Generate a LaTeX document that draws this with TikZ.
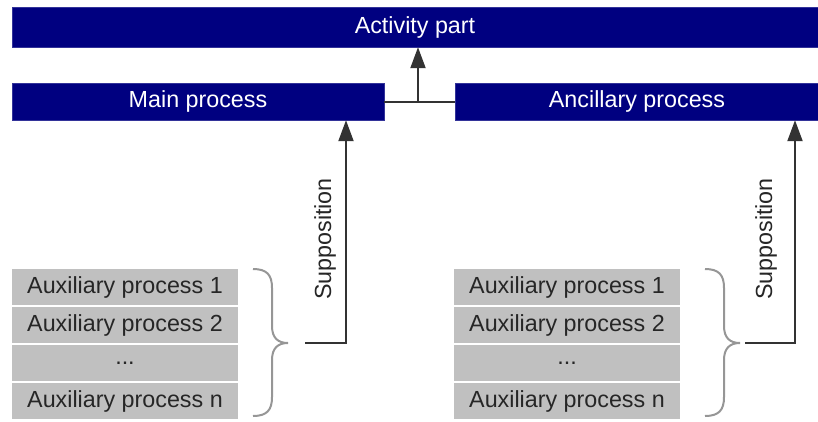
\documentclass[tikz,border=0pt]{standalone}
\usepackage{fontspec}
\setmainfont{Liberation Sans}
\usetikzlibrary{arrows.meta}
\definecolor{navyblue}{RGB}{0,0,128}
\definecolor{boxgray}{RGB}{192,192,192}
\definecolor{bracegray}{RGB}{150,150,150}
\tikzset{
  bluebox/.style={draw=navyblue!80!white, fill=navyblue, text=white, inner sep=0pt, minimum height=37pt, font=\fontsize{23.3}{26}\selectfont},
  graybox/.style={fill=boxgray, inner sep=0pt, minimum height=36pt, text=black!85, font=\fontsize{23.3}{26}\selectfont},
  conn/.style={line width=2pt, black!80},
  arr/.style={conn, -{Triangle[length=21pt,width=15pt]}},
  bracestyle/.style={draw=bracegray, line width=2pt},
  lbl/.style={font=\fontsize{23.3}{26}\selectfont, text=black!85, rotate=90, inner sep=0pt}
}
\newcommand{\mybrace}{(253,269) .. controls (267,269) and (272,275) .. (272,288) -- (272,326) .. controls (272,338) and (278,343) .. (288,343) .. controls (278,343) and (272,348) .. (272,360) -- (272,397) .. controls (272,410) and (267,416) .. (253,416)}
\begin{document}
\begin{tikzpicture}[x=1pt,y=-1pt]
\useasboundingbox (0,0) rectangle (818,421);
% top boxes
\node[bluebox, minimum width=806pt, minimum height=40pt] (act) at (415,27) {Activity part};
\node[bluebox, minimum width=372pt] (main) at (198,101.5) {Main process};
\node[bluebox, minimum width=364pt] (anc) at (637,101.5) {Ancillary process};
% junction
\coordinate (jn) at (418,101.5);
\draw[conn] (main.east) -- (anc.west);
\draw[arr] (jn) -- (jn |- act.south);
% left gray stack
\node[graybox, minimum width=226pt] (l1) at (125,287) {Auxiliary process 1};
\node[graybox, minimum width=226pt] (l2) at (125,325) {Auxiliary process 2};
\node[graybox, minimum width=226pt] (l3) at (125,363) {...};
\node[graybox, minimum width=226pt] (l4) at (125,401) {Auxiliary process n};
% right gray stack
\node[graybox, minimum width=226pt] (r1) at (567,287) {Auxiliary process 1};
\node[graybox, minimum width=226pt] (r2) at (567,325) {Auxiliary process 2};
\node[graybox, minimum width=226pt] (r3) at (567,363) {...};
\node[graybox, minimum width=226pt] (r4) at (567,401) {Auxiliary process n};
% braces
\draw[bracestyle] \mybrace;
\draw[bracestyle, xshift=452pt] \mybrace;
% supposition arrows
\coordinate (ls) at (305,343);
\coordinate (lc) at (346,343);
\draw[arr] (ls) -- (lc) -- (lc |- main.south);
\node[lbl] (lt) at (325,239) {Supposition};
\coordinate (rs) at (745,343);
\coordinate (rc) at (795,343);
\draw[arr] (rs) -- (rc) -- (rc |- anc.south);
\node[lbl] (rt) at (766,239) {Supposition};
\end{tikzpicture}
\end{document}
